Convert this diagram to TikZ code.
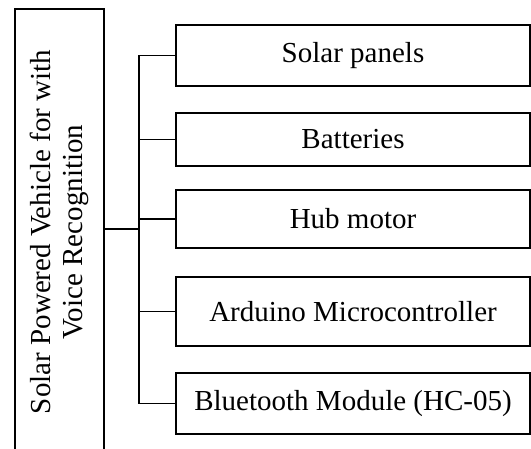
\documentclass[tikz,border=0pt]{standalone}
\usepackage{fontspec}
\setmainfont{Liberation Serif}
\usetikzlibrary{positioning}

\tikzset{
  part/.style={draw, line width=0.55pt, minimum width=141.6pt, inner sep=2pt,
    font=\fontsize{11.6}{12.6}\selectfont},
  link/.style={line width=0.55pt}
}

\begin{document}
\begin{tikzpicture}[x=0.4pt, y=0.4pt]
\useasboundingbox (0,0) rectangle (531,448);

% Main block (rotated, runs past the bottom edge)
\node[draw, line width=0.55pt, rotate=90, minimum width=178.4pt, minimum height=35.6pt,
  align=center, inner sep=1pt, font=\fontsize{11.6}{12.6}\selectfont]
  (title) at (59.5,216) {Solar Powered Vehicle for with\\Voice Recognition};

% Components
\node[part, minimum height=24.4pt] (p1) at (353,392.5) {Solar panels};
\node[part, minimum height=21.2pt] (p2) at (353,308.5) {Batteries};
\node[part, minimum height=23.2pt] (p3) at (353,229) {Hub motor};
\node[part, minimum height=27.6pt] (p4) at (353,136.5) {Arduino Microcontroller};
\node[part, minimum height=24.4pt] (p5) at (353,44.5) {Bluetooth Module (HC-05)};

% Tree lines
\coordinate (bus) at (139,219);
\draw[link] (title.south |- bus) -- (bus);
\foreach \p in {p1,p2,p3,p4,p5}
  \draw[link] (bus) |- (\p.west);

\end{tikzpicture}
\end{document}
